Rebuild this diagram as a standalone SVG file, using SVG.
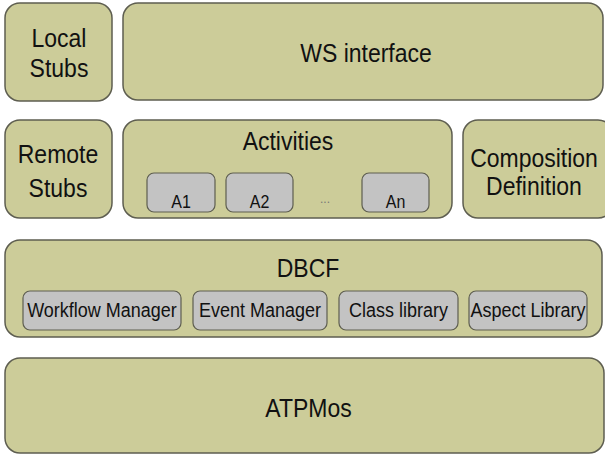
<svg xmlns="http://www.w3.org/2000/svg" width="605" height="455" viewBox="0 0 605 455">
<style>
.box{fill:#cccc99;stroke:#5e5e50;stroke-width:1.5}
.sub{fill:#c3c3c3;stroke:#5e5e50;stroke-width:1.2}
text{font-family:"Liberation Sans",Arial,sans-serif;fill:#111;text-anchor:middle}
.big{font-size:23px}
.sm{font-size:18px}
.a{font-size:16px}
.dots{font-size:12px;fill:#777}
</style>
<rect width="605" height="455" fill="#ffffff"/>
<g id="local-stubs">
<rect class="box" x="5" y="3" width="107" height="98" rx="15"/>
<text class="big" transform="translate(59 47) scale(1 1.15)">Local</text>
<text class="big" transform="translate(59 77) scale(1 1.15)">Stubs</text>
</g>
<g id="ws-interface">
<rect class="box" x="123" y="3" width="480" height="97" rx="15"/>
<text class="big" transform="translate(366 62) scale(1 1.15)">WS interface</text>
</g>
<g id="remote-stubs">
<rect class="box" x="5" y="120" width="107" height="98" rx="15"/>
<text class="big" transform="translate(58 163) scale(1 1.15)">Remote</text>
<text class="big" transform="translate(58 197) scale(1 1.15)">Stubs</text>
</g>
<g id="activities">
<rect class="box" x="123" y="120" width="329" height="98" rx="15"/>
<text class="big" transform="translate(288 150) scale(1 1.15)">Activities</text>
<g id="a1">
<rect class="sub" x="147" y="173" width="68" height="39" rx="7"/>
<text class="a" transform="translate(181 208) scale(1 1.1)">A1</text>
</g>
<g id="a2">
<rect class="sub" x="226" y="173" width="67" height="39" rx="7"/>
<text class="a" transform="translate(259.5 208) scale(1 1.1)">A2</text>
</g>
<text class="dots" x="325" y="203">...</text>
<g id="an">
<rect class="sub" x="362" y="173" width="67" height="39" rx="7"/>
<text class="a" transform="translate(395.5 208) scale(1 1.1)">An</text>
</g>
</g>
<g id="composition-definition">
<rect class="box" x="463" y="120" width="150" height="98" rx="15"/>
<text class="big" transform="translate(534 167) scale(1 1.15)">Composition</text>
<text class="big" transform="translate(534 195) scale(1 1.15)">Definition</text>
</g>
<g id="dbcf">
<rect class="box" x="5" y="240" width="597" height="97" rx="15"/>
<text class="big" transform="translate(308 277) scale(1 1.15)">DBCF</text>
<g id="workflow-manager">
<rect class="sub" x="23" y="291" width="158" height="39" rx="7"/>
<text class="sm" transform="translate(102 317) scale(1 1.12)">Workflow Manager</text>
</g>
<g id="event-manager">
<rect class="sub" x="193" y="291" width="134" height="39" rx="7"/>
<text class="sm" transform="translate(260 317) scale(1 1.12)">Event Manager</text>
</g>
<g id="class-library">
<rect class="sub" x="339" y="291" width="119" height="39" rx="7"/>
<text class="sm" transform="translate(398.5 317) scale(1 1.12)">Class library</text>
</g>
<g id="aspect-library">
<rect class="sub" x="469" y="291" width="118" height="39" rx="7"/>
<text class="sm" transform="translate(528 317) scale(1 1.12)">Aspect Library</text>
</g>
</g>
<g id="atpmos">
<rect class="box" x="5" y="358" width="599" height="95" rx="15"/>
<text class="big" transform="translate(308.5 417) scale(1 1.15)">ATPMos</text>
</g>
<g id="connectors"></g>
</svg>
